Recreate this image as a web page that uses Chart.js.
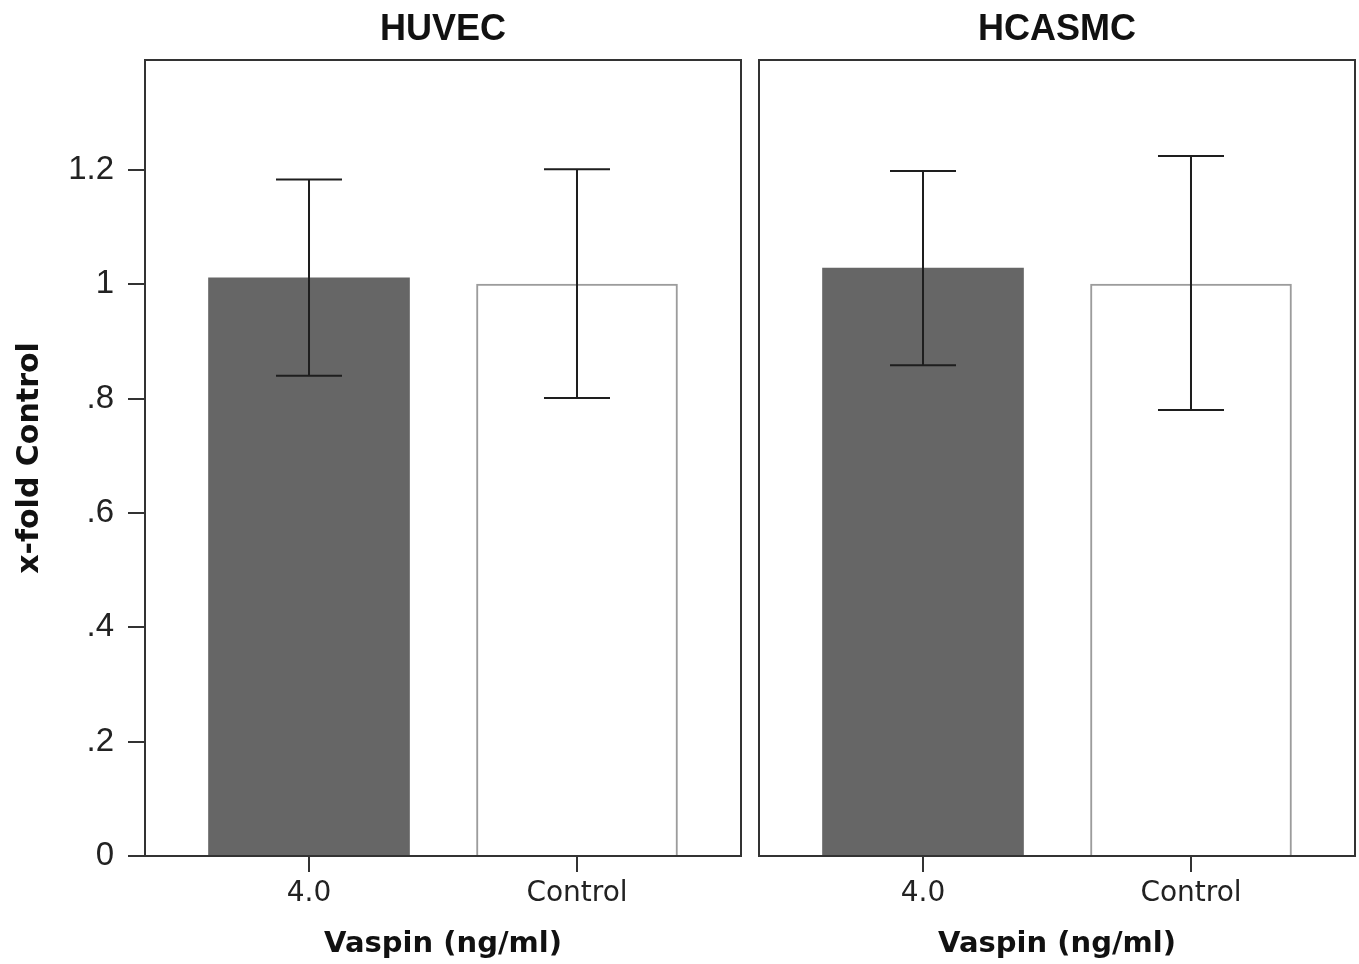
<!DOCTYPE html>
<html>
<head>
<meta charset="utf-8">
<script src="https://cdn.jsdelivr.net/npm/chart.js@4.4.1/dist/chart.umd.min.js"></script>
<style>
  html, body { margin: 0; padding: 0; background: #fff; }
  #wrap { position: relative; width: 1359px; height: 964px; }
  canvas { position: absolute; top: 0; }
</style>
</head>
<body>
<div id="wrap">
  <canvas id="left" width="750" height="964" style="left:0"></canvas>
  <canvas id="right" width="609" height="964" style="left:750px"></canvas>
</div>
<script>
// values
const categories = ['4.0', 'Control'];
const panelTitles = ['HUVEC', 'HCASMC'];
const huvecMeans = [1.011, 1.0];
const huvecUpper = [1.183, 1.201];
const huvecLower = [0.840, 0.801];
const hcasmcMeans = [1.028, 1.0];
const hcasmcUpper = [1.198, 1.224];
const hcasmcLower = [0.858, 0.780];
const yTicks = [0, 0.2, 0.4, 0.6, 0.8, 1, 1.2];
const yTickLabels = ['0', '.2', '.4', '.6', '.8', '1', '1.2'];
const yMax = 1.392;
const xTitle = 'Vaspin (ng/ml)';
const yTitle = 'x-fold Control';

const AXIS = '#333333';

// error bars drawn through the chart scales
const errorBars = {
    id: 'errorBars',
    afterDatasetsDraw(chart, args, opts) {
        const { ctx, scales: { x, y } } = chart;
        ctx.save();
        ctx.strokeStyle = '#1e1e1e';
        ctx.lineWidth = 2;
        opts.upper.forEach((hi, i) => {
            const px = x.getPixelForValue(i);
            const top = y.getPixelForValue(hi);
            const bot = y.getPixelForValue(opts.lower[i]);
            ctx.beginPath();
            ctx.moveTo(px, top);
            ctx.lineTo(px, bot);
            ctx.moveTo(px - 33, top);
            ctx.lineTo(px + 33, top);
            ctx.moveTo(px - 33, bot);
            ctx.lineTo(px + 33, bot);
            ctx.stroke();
        });
        ctx.restore();
    }
};

// frame around the plot area
const frameBox = {
    id: 'frameBox',
    afterDraw(chart) {
        const { ctx, chartArea: a } = chart;
        ctx.save();
        ctx.strokeStyle = AXIS;
        ctx.lineWidth = 2;
        ctx.strokeRect(a.left, a.top, a.right - a.left, a.bottom - a.top);
        ctx.restore();
    }
};

function makePanel(canvasId, title, means, upper, lower, showY) {
    const ctx = document.getElementById(canvasId).getContext('2d');
    return new Chart(ctx, {
        type: 'bar',
        data: {
            datasets: [{
                data: means.map((v, i) => ({ x: i, y: v })),
                backgroundColor: ['#666666', '#ffffff'],
                borderColor: ['#666666', '#9c9c9c'],
                borderWidth: [0, 2],
                barThickness: 201
            }]
        },
        options: {
            responsive: false,
            animation: false,
            devicePixelRatio: 1,
            layout: {
                padding: { left: showY ? 0 : 9, right: showY ? 9 : 4, top: 0, bottom: 0 }
            },
            plugins: {
                legend: { display: false },
                tooltip: { enabled: false },
                title: {
                    display: true,
                    text: title,
                    fullSize: false,
                    color: '#111',
                    font: { family: 'Liberation Sans', size: 36, weight: 'bold', lineHeight: 1.2 },
                    padding: { top: 8, bottom: 8.8 }
                },
                errorBars: { upper: upper, lower: lower }
            },
            scales: {
                x: {
                    type: 'linear',
                    offset: false,
                    min: -0.612,
                    max: 1.612,
                    afterBuildTicks: (scale) => {
                        scale.ticks = categories.map((c, i) => ({ value: i }));
                    },
                    afterFit: (scale) => { scale.height = 108; },
                    grid: { offset: false, drawOnChartArea: false, drawTicks: true, tickLength: 16, color: AXIS, lineWidth: 2 },
                    border: { display: true, color: AXIS, width: 2 },
                    ticks: {
                        color: '#222',
                        padding: 5,
                        maxRotation: 0,
                        font: { family: 'DejaVu Sans', size: 28 },
                        callback: (v) => categories[v]
                    },
                    title: {
                        display: true,
                        text: xTitle,
                        color: '#111',
                        font: { family: 'DejaVu Sans', size: 29, weight: 'bold', lineHeight: 1.2 },
                        padding: { top: 0, bottom: 2 }
                    }
                },
                y: {
                    display: showY,
                    min: 0,
                    max: yMax,
                    afterBuildTicks: (scale) => {
                        scale.ticks = yTicks.map(v => ({ value: v }));
                    },
                    afterFit: (scale) => { if (showY) scale.width = 145; },
                    grid: { drawOnChartArea: false, drawTicks: true, tickLength: 17, color: AXIS, lineWidth: 2 },
                    border: { display: true, color: AXIS, width: 2 },
                    ticks: {
                        color: '#222',
                        padding: 14,
                        font: { family: 'Liberation Sans', size: 33 },
                        callback: (v, i) => yTickLabels[i]
                    },
                    title: {
                        display: true,
                        text: yTitle,
                        color: '#111',
                        font: { family: 'DejaVu Sans', size: 30, weight: 'bold', lineHeight: 1.2 },
                        padding: { top: 12, bottom: 0 }
                    }
                }
            }
        },
        plugins: [errorBars, frameBox]
    });
}

makePanel('left', panelTitles[0], huvecMeans, huvecUpper, huvecLower, true);
makePanel('right', panelTitles[1], hcasmcMeans, hcasmcUpper, hcasmcLower, false);
</script>
</body>
</html>
